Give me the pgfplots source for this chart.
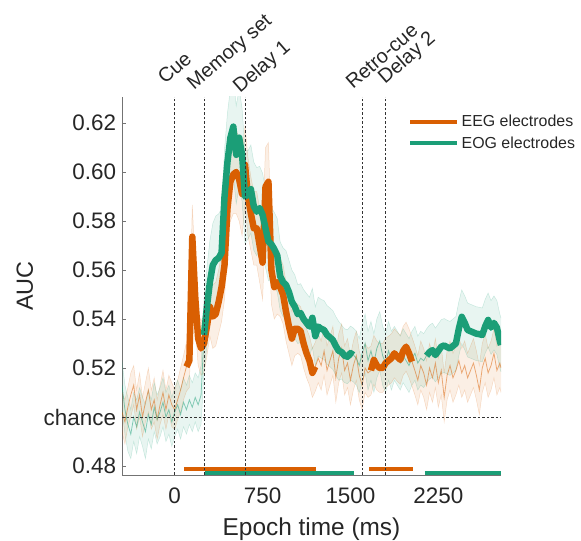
\documentclass[border=0pt]{standalone}
\usepackage{fontspec}
\setmainfont{Liberation Sans}
\usepackage{pgfplots}
\pgfplotsset{compat=1.18}
\usepgfplotslibrary{fillbetween}
\usepackage{pgfplotstable}
\definecolor{eegc}{HTML}{D95F02}
\definecolor{eogc}{HTML}{1B9E77}
\definecolor{txt}{HTML}{262626}

\pgfplotstableread{
t m e
-450 0.502 0.008
-425 0.498 0.009
-400 0.504 0.008
-375 0.509 0.009
-350 0.513 0.008
-325 0.503 0.008
-300 0.509 0.009
-275 0.500 0.008
-250 0.506 0.008
-225 0.511 0.009
-200 0.503 0.008
-175 0.507 0.009
-150 0.499 0.008
-125 0.505 0.008
-100 0.510 0.009
-75 0.503 0.008
-50 0.509 0.008
-25 0.505 0.009
0 0.503 0.008
25 0.507 0.008
50 0.511 0.009
75 0.516 0.009
100 0.5205 0.010
125 0.523 0.011
150 0.5736 0.013
175 0.549 0.012
200 0.532 0.011
225 0.528 0.011
250 0.530 0.012
275 0.537 0.012
300 0.545 0.012
325 0.541 0.013
350 0.542 0.013
375 0.547 0.013
400 0.553 0.014
425 0.562 0.014
450 0.585 0.015
475 0.596 0.016
500 0.599 0.016
525 0.600 0.017
550 0.597 0.017
575 0.591 0.017
600 0.603 0.016
625 0.590 0.016
650 0.583 0.015
675 0.577 0.015
700 0.577 0.015
725 0.570 0.015
750 0.563 0.015
775 0.594 0.016
800 0.596 0.016
825 0.560 0.014
850 0.553 0.013
875 0.555 0.013
900 0.553 0.012
925 0.550 0.012
950 0.543 0.012
975 0.537 0.011
1000 0.532 0.011
1025 0.536 0.011
1050 0.536 0.010
1075 0.535 0.010
1100 0.530 0.010
1125 0.526 0.010
1150 0.523 0.010
1175 0.518 0.010
1200 0.5205 0.010
1225 0.524 0.010
1250 0.521 0.010
1275 0.527 0.010
1300 0.519 0.010
1325 0.523 0.010
1350 0.527 0.010
1375 0.516 0.010
1400 0.524 0.010
1425 0.528 0.010
1450 0.519 0.010
1475 0.522 0.010
1500 0.515 0.010
1525 0.521 0.010
1550 0.525 0.010
1575 0.517 0.010
1600 0.513 0.010
1625 0.520 0.010
1650 0.518 0.010
1675 0.519 0.010
1700 0.5233 0.010
1725 0.521 0.010
1750 0.520 0.010
1775 0.520 0.010
1800 0.522 0.010
1825 0.523 0.010
1850 0.524 0.010
1875 0.526 0.010
1900 0.5246 0.010
1925 0.5233 0.010
1950 0.527 0.010
1975 0.5287 0.010
2000 0.526 0.010
2025 0.5226 0.010
2050 0.519 0.010
2075 0.515 0.010
2100 0.521 0.010
2125 0.518 0.010
2150 0.513 0.010
2175 0.520 0.010
2200 0.516 0.010
2225 0.522 0.010
2250 0.514 0.010
2275 0.519 0.010
2300 0.508 0.010
2325 0.517 0.010
2350 0.521 0.010
2375 0.516 0.010
2400 0.519 0.010
2425 0.523 0.010
2450 0.518 0.010
2475 0.521 0.010
2500 0.516 0.010
2525 0.519 0.010
2550 0.522 0.010
2575 0.517 0.010
2600 0.511 0.010
2625 0.520 0.010
2650 0.524 0.010
2675 0.518 0.010
2700 0.521 0.010
2725 0.526 0.010
2750 0.519 0.010
2775 0.522 0.010
2785 0.520 0.010
}\eeg

\pgfplotstableread{
t m e
-450 0.513 0.010
-425 0.503 0.010
-400 0.497 0.011
-375 0.493 0.010
-350 0.500 0.010
-325 0.496 0.011
-300 0.502 0.010
-275 0.498 0.010
-250 0.494 0.011
-225 0.501 0.010
-200 0.497 0.010
-175 0.504 0.010
-150 0.499 0.010
-125 0.502 0.010
-100 0.506 0.010
-75 0.500 0.010
-50 0.503 0.010
-25 0.498 0.010
0 0.502 0.010
25 0.505 0.010
50 0.501 0.010
75 0.506 0.010
100 0.503 0.010
125 0.507 0.010
150 0.504 0.010
175 0.508 0.010
200 0.505 0.011
225 0.509 0.012
250 0.5335 0.015
275 0.545 0.016
300 0.555 0.017
325 0.562 0.017
350 0.564 0.018
375 0.5649 0.018
400 0.567 0.018
425 0.590 0.019
450 0.604 0.020
475 0.6139 0.020
500 0.6185 0.020
525 0.607 0.020
550 0.614 0.020
575 0.607 0.019
600 0.590 0.019
625 0.5906 0.018
650 0.593 0.018
675 0.586 0.018
700 0.5838 0.018
725 0.5853 0.017
750 0.5825 0.017
775 0.577 0.016
800 0.5716 0.016
825 0.5705 0.015
850 0.5685 0.015
875 0.566 0.015
900 0.5575 0.014
925 0.555 0.014
950 0.5539 0.014
975 0.551 0.013
1000 0.547 0.013
1025 0.545 0.013
1050 0.542 0.012
1075 0.5424 0.012
1100 0.540 0.012
1125 0.5384 0.012
1150 0.5369 0.012
1175 0.5405 0.012
1200 0.533 0.012
1225 0.5369 0.012
1250 0.536 0.012
1275 0.5355 0.012
1300 0.5335 0.012
1325 0.5325 0.012
1350 0.5314 0.012
1375 0.529 0.012
1400 0.527 0.012
1425 0.5265 0.011
1450 0.525 0.011
1475 0.5246 0.011
1500 0.5261 0.011
1525 0.5253 0.011
1550 0.524 0.011
1575 0.521 0.011
1600 0.526 0.012
1625 0.530 0.012
1650 0.523 0.012
1675 0.527 0.012
1700 0.522 0.012
1725 0.528 0.012
1750 0.531 0.012
1775 0.525 0.012
1800 0.522 0.012
1825 0.527 0.012
1850 0.523 0.012
1875 0.526 0.011
1900 0.524 0.011
1925 0.522 0.011
1950 0.525 0.011
1975 0.523 0.011
2000 0.521 0.011
2025 0.524 0.011
2050 0.526 0.011
2075 0.522 0.011
2100 0.524 0.011
2125 0.523 0.011
2150 0.525 0.011
2175 0.5265 0.011
2200 0.5273 0.011
2225 0.5253 0.011
2250 0.527 0.011
2275 0.5287 0.011
2300 0.5292 0.011
2325 0.5285 0.011
2350 0.528 0.011
2375 0.529 0.011
2400 0.530 0.011
2425 0.536 0.011
2450 0.5409 0.011
2475 0.5385 0.011
2500 0.5355 0.011
2525 0.535 0.011
2550 0.5345 0.011
2575 0.534 0.011
2600 0.5338 0.011
2625 0.5335 0.011
2650 0.537 0.011
2675 0.5396 0.011
2700 0.5365 0.011
2725 0.5384 0.011
2750 0.5365 0.011
2775 0.531 0.011
2785 0.5294 0.011
}\eog

\begin{document}
\begin{tikzpicture}
\begin{axis}[
  scale only axis, width=379bp, height=378bp,
  xmin=-450, xmax=2785, ymin=0.47633, ymax=0.6306,
  axis x line=bottom, axis y line=left,
  axis line style={-, draw=black!55, line width=0.6pt},
  tick align=inside, major tick length=4bp,
  tick style={black!55, line width=0.6pt},
  xtick style={draw=none},
  xtick={0,750,1500,2250}, xticklabels={0,750,1500,2250},
  ytick={0.48,0.50,0.52,0.54,0.56,0.58,0.60,0.62},
  yticklabels={0.48,chance,0.52,0.54,0.56,0.58,0.60,0.62},
  ticklabel style={font=\fontsize{22.5}{27}\selectfont, text=txt},
  xticklabel style={yshift=-9bp},
  yticklabel style={xshift=-2.5bp},
  legend style={at={(0.755,0.957)}, anchor=north west, draw=none, fill=none,
    font=\fontsize{16}{19}\selectfont, text=txt, inner sep=0pt, row sep=4bp,
    /tikz/every even column/.append style={column sep=3bp}},
  legend image code/.code={\draw[#1, line width=4.3bp] (0bp,0bp) -- (47bp,0bp);},
  legend cell align=left,
]
% EEG band
\addplot[name path=eegU, draw=eegc, draw opacity=0.2, line width=0.5pt, forget plot]
  table[x=t, y expr=\thisrow{m}+\thisrow{e}] {\eeg};
\addplot[name path=eegL, draw=eegc, draw opacity=0.2, line width=0.5pt, forget plot]
  table[x=t, y expr=\thisrow{m}-\thisrow{e}] {\eeg};
\addplot[fill=eegc, fill opacity=0.1, draw=none, forget plot] fill between[of=eegU and eegL];
% EOG band
\addplot[name path=eogU, draw=eogc, draw opacity=0.2, line width=0.5pt, forget plot]
  table[x=t, y expr=\thisrow{m}+\thisrow{e}] {\eog};
\addplot[name path=eogL, draw=eogc, draw opacity=0.2, line width=0.5pt, forget plot]
  table[x=t, y expr=\thisrow{m}-\thisrow{e}] {\eog};
\addplot[fill=eogc, fill opacity=0.1, draw=none, forget plot] fill between[of=eogU and eogL];
% thin means
\addplot[eegc, opacity=0.5, line width=0.8pt, forget plot] table[x=t, y=m] {\eeg};
\addplot[eogc, opacity=0.5, line width=0.8pt, forget plot] table[x=t, y=m] {\eog};
% significant (thick)
\addplot[eegc, line width=6.5bp, line join=round, restrict x to domain=90:1210] table[x=t, y=m] {\eeg};
\addlegendentry{EEG electrodes}
\addplot[eogc, line width=6.5bp, line join=round, restrict x to domain=240:1530] table[x=t, y=m] {\eog};
\addlegendentry{EOG electrodes}
\addplot[eegc, line width=6.5bp, line join=round, restrict x to domain=1665:2030, forget plot] table[x=t, y=m] {\eeg};
\addplot[eogc, line width=6.5bp, line join=round, restrict x to domain=2140:2790, forget plot] table[x=t, y=m] {\eog};
% significance bars
\addplot[eegc, line width=4.5bp, forget plot] coordinates {(80,0.4788) (1205,0.4788)};
\addplot[eegc, line width=4.5bp, forget plot] coordinates {(1660,0.4788) (2035,0.4788)};
\addplot[eogc, line width=4.5bp, forget plot] coordinates {(255,0.4769) (1530,0.4769)};
\addplot[eogc, line width=4.5bp, forget plot] coordinates {(2135,0.4769) (2785,0.4769)};
% reference lines
\draw[black!80, line width=0.6pt, dash pattern=on 2.5bp off 2bp] (axis cs:-450,0.5) -- (axis cs:2785,0.5);
\foreach \xx in {0,250,600,1600,1800}{
  \edef\tmp{\noexpand\draw[black!80, line width=0.6pt, dash pattern=on 2.5bp off 2bp] (axis cs:\xx,0.47633) -- (axis cs:\xx,0.6306);}\tmp
}
\coordinate (BL) at (rel axis cs:0,0);
\coordinate (ML) at (rel axis cs:0,0.5);
\coordinate (MB) at (rel axis cs:0.5,0);
\end{axis}
\node[rotate=90, anchor=base, font=\fontsize{23.5}{28}\selectfont, text=txt] at ([xshift=-89bp]ML) {AUC};
\node[anchor=base, font=\fontsize{24.5}{29}\selectfont, text=txt] at ([yshift=-60bp]MB) {Epoch time (ms)};
\begin{scope}[every node/.style={rotate=41, anchor=base west, font=\fontsize{20}{24}\selectfont, text=txt, inner sep=0pt}]
\node at ([shift={(43bp,390bp)}]BL) {Cue};
\node at ([shift={(72bp,384bp)}]BL) {Memory set};
\node at ([shift={(118bp,381bp)}]BL) {Delay 1};
\node at ([shift={(231bp,385bp)}]BL) {Retro-cue};
\node at ([shift={(263bp,390bp)}]BL) {Delay 2};
\end{scope}
\pgfresetboundingbox
\path[use as bounding box] ([shift={(-122bp,-66bp)}]BL) rectangle ([shift={(459bp,475bp)}]BL);
\end{tikzpicture}
\end{document}
